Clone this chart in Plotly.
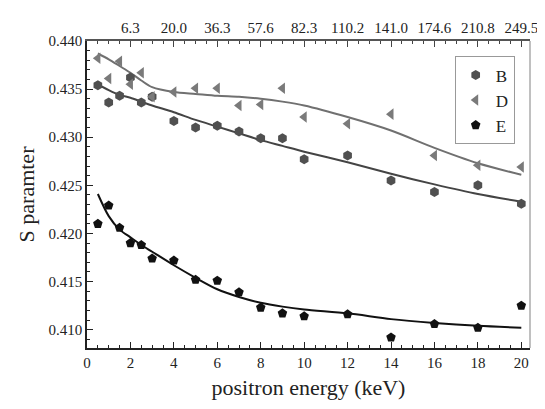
import plotly.graph_objects as go

# ---- data ----
energy = [0.5, 1, 1.5, 2, 2.5, 3, 4, 5, 6, 7, 8, 9, 10, 12, 14, 16, 18, 20]
S_B = [0.4354, 0.4336, 0.4343, 0.4362, 0.4336, 0.4342, 0.4317, 0.4310, 0.4312,
       0.4306, 0.4299, 0.4299, 0.4277, 0.4281, 0.4255, 0.4243, 0.4250, 0.4231]
S_D = [0.4382, 0.4361, 0.4379, 0.4355, 0.4367, 0.4342, 0.4347, 0.4351, 0.4351,
       0.4333, 0.4334, 0.4351, 0.4321, 0.4314, 0.4324, 0.4281, 0.4271, 0.4269]
S_E = [0.4210, 0.4229, 0.4206, 0.4190, 0.4188, 0.4174, 0.4172, 0.4152, 0.4151,
       0.4139, 0.4123, 0.4117, 0.4114, 0.4116, 0.4092, 0.4106, 0.4102, 0.4125]

fit_x = [0.5, 1, 1.5, 2, 2.5, 3, 4, 5, 6, 7, 8, 9, 10, 12, 14, 16, 18, 20]
fit_B = [0.4355, 0.4349, 0.4344, 0.4341, 0.4337, 0.4333, 0.4326, 0.4318, 0.4311,
         0.4304, 0.4297, 0.4291, 0.4285, 0.4274, 0.4262, 0.4251, 0.4241, 0.4233]
fit_D = [0.4387, 0.4381, 0.4374, 0.4367, 0.4359, 0.4352, 0.4347, 0.4345, 0.4343,
         0.4342, 0.4340, 0.4337, 0.4333, 0.4321, 0.4307, 0.4289, 0.4273, 0.4261]
fit_E = [0.4241, 0.4218, 0.4204, 0.4196, 0.4188, 0.4181, 0.4167, 0.4154, 0.4142,
         0.4134, 0.4128, 0.4124, 0.4121, 0.4117, 0.4111, 0.4107, 0.4104, 0.4102]

top_tickvals = [2, 4, 6, 8, 10, 12, 14, 16, 18, 20]
top_ticktext = ["6.3", "20.0", "36.3", "57.6", "82.3", "110.2", "141.0", "174.6", "210.8", "249.5"]

FONT = "Liberation Serif"

fig = go.Figure()

fig.add_trace(go.Scatter(x=fit_x, y=fit_B, mode="lines",
                         line=dict(color="#444444", width=2, shape="spline", smoothing=0.8),
                         showlegend=False, hoverinfo="skip"))
fig.add_trace(go.Scatter(x=fit_x, y=fit_D, mode="lines",
                         line=dict(color="#707070", width=2, shape="spline", smoothing=0.8),
                         showlegend=False, hoverinfo="skip"))
fig.add_trace(go.Scatter(x=fit_x, y=fit_E, mode="lines",
                         line=dict(color="#111111", width=2, shape="spline", smoothing=0.8),
                         showlegend=False, hoverinfo="skip"))

fig.add_trace(go.Scatter(x=energy, y=S_B, mode="markers", name="B",
                         marker=dict(symbol="hexagon", size=10, color="#505050")))
fig.add_trace(go.Scatter(x=energy, y=S_D, mode="markers", name="D",
                         marker=dict(symbol="triangle-left", size=10, color="#7a7a7a")))
fig.add_trace(go.Scatter(x=energy, y=S_E, mode="markers", name="E",
                         marker=dict(symbol="pentagon", size=10, color="#111111")))

# invisible trace to carry the top axis
fig.add_trace(go.Scatter(x=[0, 20], y=[0.42, 0.42], xaxis="x2", mode="markers",
                         marker=dict(opacity=0), showlegend=False, hoverinfo="skip"))

fig.update_layout(
    width=545, height=409,
    margin=dict(l=79, r=23, t=24, b=69),
    paper_bgcolor="white", plot_bgcolor="white",
    font=dict(family=FONT, size=15, color="#222222"),
    xaxis=dict(
        range=[0, 20.4], tickvals=list(range(0, 21, 2)), ticks="inside", ticklen=6, tickwidth=1,
        tickcolor="#222", showline=True, linecolor="#222", linewidth=1.5, showgrid=False, zeroline=False,
        minor=dict(dtick=0.5, ticks="inside", ticklen=3, tickcolor="#222", showgrid=False),
        title=dict(text="positron energy (keV)", font=dict(size=22, family=FONT), standoff=10),
        tickfont=dict(size=15, family=FONT),
    ),
    xaxis2=dict(
        overlaying="x", side="top", range=[0, 20.4], tickvals=top_tickvals, ticktext=top_ticktext,
        ticks="inside", ticklen=6, tickcolor="#444", showline=True, linecolor="#555", linewidth=1.5,
        showgrid=False, zeroline=False,
        minor=dict(dtick=0.5, ticks="inside", ticklen=3, tickcolor="#444", showgrid=False),
        tickfont=dict(size=15, family=FONT),
    ),
    yaxis=dict(
        range=[0.4081, 0.440], dtick=0.005, tick0=0.41, tickformat=".3f", ticks="inside", ticklen=6,
        tickcolor="#222", showline=True, linecolor="#222", linewidth=1.5, showgrid=False, zeroline=False,
        minor=dict(dtick=0.001, ticks="inside", ticklen=3, tickcolor="#222", showgrid=False),
        title=dict(text="S paramter", font=dict(size=22, family=FONT), standoff=8),
        tickfont=dict(size=15, family=FONT),
    ),
    legend=dict(x=0.83, y=0.95, xanchor="left", yanchor="top", bgcolor="white",
                bordercolor="#999", borderwidth=1, font=dict(size=17, family=FONT),
                itemwidth=30, tracegroupgap=0),
    shapes=[dict(type="line", xref="paper", yref="paper", x0=1, x1=1, y0=0, y1=1,
                 line=dict(color="#c0c0c0", width=2))],
)

fig.write_html("out.html")
